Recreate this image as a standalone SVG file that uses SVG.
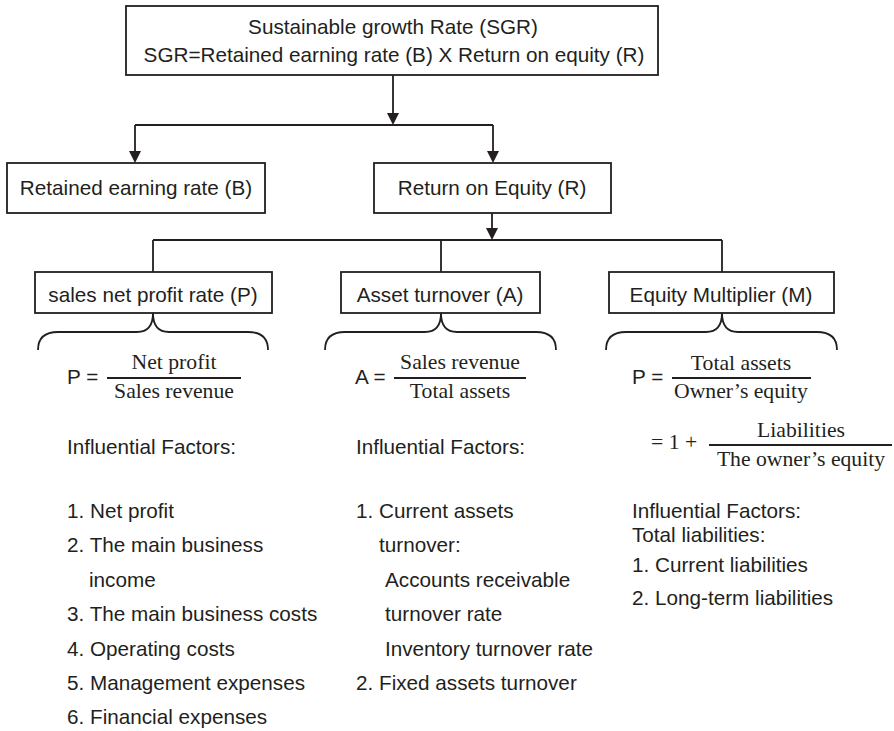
<svg xmlns="http://www.w3.org/2000/svg" width="894" height="731" viewBox="0 0 894 731">
  <defs>
    <style>
      .box { fill: #ffffff; stroke: #231f20; stroke-width: 1.8; }
      .ln { fill: none; stroke: #231f20; stroke-width: 1.8; }
      .head { fill: #231f20; }
      .lbl { font-family: "Liberation Sans", Arial, sans-serif; font-size: 20.7px; fill: #231f20; }
      .mid { text-anchor: middle; }
      .frac { font-family: "Liberation Serif", "Times New Roman", serif; font-size: 21.7px; fill: #231f20; text-anchor: middle; }
      .ser { font-family: "Liberation Serif", "Times New Roman", serif; font-size: 21.7px; fill: #231f20; }
      .bar { stroke: #231f20; stroke-width: 2; }
    </style>
  </defs>
  <rect width="894" height="731" fill="#ffffff"/>

  <!-- connectors -->
  <g id="connectors">
    <path class="ln" d="M393,75 V113"/>
    <path class="head" d="M387,113 L399,113 L393,125 Z"/>
    <path class="ln" d="M135,125 H493"/>
    <path class="ln" d="M135,125 V151"/>
    <path class="head" d="M129,151 L141,151 L135,163 Z"/>
    <path class="ln" d="M493,125 V151"/>
    <path class="head" d="M487,151 L499,151 L493,163 Z"/>
    <path class="ln" d="M492,213 V228"/>
    <path class="head" d="M486,228 L498,228 L492,240 Z"/>
    <path class="ln" d="M153,240 H722"/>
    <path class="ln" d="M153,240 V272"/>
    <path class="ln" d="M441,240 V272"/>
    <path class="ln" d="M722,240 V272"/>
    <!-- braces under the three factor boxes -->
    <path class="ln" d="M38,350 C38,338 44,332 58,332 L137,332 C147,332 153,326 153,313 C153,326 159,332 169,332 L248,332 C262,332 268,338 268,350"/>
    <path class="ln" d="M325,350 C325,338 331,332 345,332 L425,332 C435,332 441,326 441,313 C441,326 447,332 457,332 L536,332 C550,332 556,338 556,350"/>
    <path class="ln" d="M606,350 C606,338 612,332 626,332 L706,332 C716,332 722,326 722,313 C722,326 728,332 738,332 L817,332 C831,332 837,338 837,350"/>
  </g>

  <!-- top node -->
  <g id="sgr">
    <rect class="box" x="126" y="6" width="532" height="69"/>
    <text class="lbl mid" x="393" y="34">Sustainable growth Rate (SGR)</text>
    <text class="lbl mid" x="394" y="62">SGR=Retained earning rate (B) X Return on equity (R)</text>
  </g>

  <g id="retained">
    <rect class="box" x="7" y="163" width="258" height="50"/>
    <text class="lbl mid" x="136" y="195">Retained earning rate (B)</text>
  </g>

  <g id="roe">
    <rect class="box" x="374" y="163" width="237" height="50"/>
    <text class="lbl mid" x="492" y="195">Return on Equity (R)</text>
  </g>

  <!-- sales net profit rate -->
  <g id="profit">
    <rect class="box" x="35" y="272" width="237" height="41"/>
    <text class="lbl mid" x="153" y="302">sales net profit rate (P)</text>
    <text class="lbl" x="67" y="384">P =</text>
    <text class="frac" x="174" y="369">Net profit</text>
    <line class="bar" x1="107" y1="378" x2="241" y2="378"/>
    <text class="frac" x="174" y="398">Sales revenue</text>
    <text class="lbl" x="67" y="454">Influential Factors:</text>
    <text class="lbl" x="67" y="518">1. Net profit</text>
    <text class="lbl" x="67" y="552">2. The main business</text>
    <text class="lbl" x="89" y="587">income</text>
    <text class="lbl" x="67" y="621">3. The main business costs</text>
    <text class="lbl" x="67" y="656">4. Operating costs</text>
    <text class="lbl" x="67" y="690">5. Management expenses</text>
    <text class="lbl" x="67" y="724">6. Financial expenses</text>
  </g>

  <!-- asset turnover -->
  <g id="turnover">
    <rect class="box" x="341" y="272" width="199" height="41"/>
    <text class="lbl mid" x="440" y="302">Asset turnover (A)</text>
    <text class="lbl" x="355" y="384">A =</text>
    <text class="frac" x="460" y="369">Sales revenue</text>
    <line class="bar" x1="394" y1="378" x2="526" y2="378"/>
    <text class="frac" x="460" y="398">Total assets</text>
    <text class="lbl" x="356" y="454">Influential Factors:</text>
    <text class="lbl" x="356" y="518">1. Current assets</text>
    <text class="lbl" x="379" y="552">turnover:</text>
    <text class="lbl" x="385" y="587">Accounts receivable</text>
    <text class="lbl" x="385" y="621">turnover rate</text>
    <text class="lbl" x="385" y="656">Inventory turnover rate</text>
    <text class="lbl" x="356" y="690">2. Fixed assets turnover</text>
  </g>

  <!-- equity multiplier -->
  <g id="multiplier">
    <rect class="box" x="609" y="272" width="225" height="41"/>
    <text class="lbl mid" x="721" y="302">Equity Multiplier (M)</text>
    <text class="lbl" x="632" y="384">P =</text>
    <text class="frac" x="741" y="370">Total assets</text>
    <line class="bar" x1="672" y1="378" x2="811" y2="378"/>
    <text class="frac" x="741" y="398">Owner’s equity</text>
    <text class="ser" x="651" y="449">= 1 +</text>
    <text class="frac" x="801" y="437">Liabilities</text>
    <line class="bar" x1="709" y1="445" x2="892" y2="445"/>
    <text class="frac" x="801" y="466">The owner’s equity</text>
    <text class="lbl" x="632" y="518">Influential Factors:</text>
    <text class="lbl" x="632" y="542">Total liabilities:</text>
    <text class="lbl" x="632" y="572">1. Current liabilities</text>
    <text class="lbl" x="632" y="605">2. Long-term liabilities</text>
  </g>
</svg>
